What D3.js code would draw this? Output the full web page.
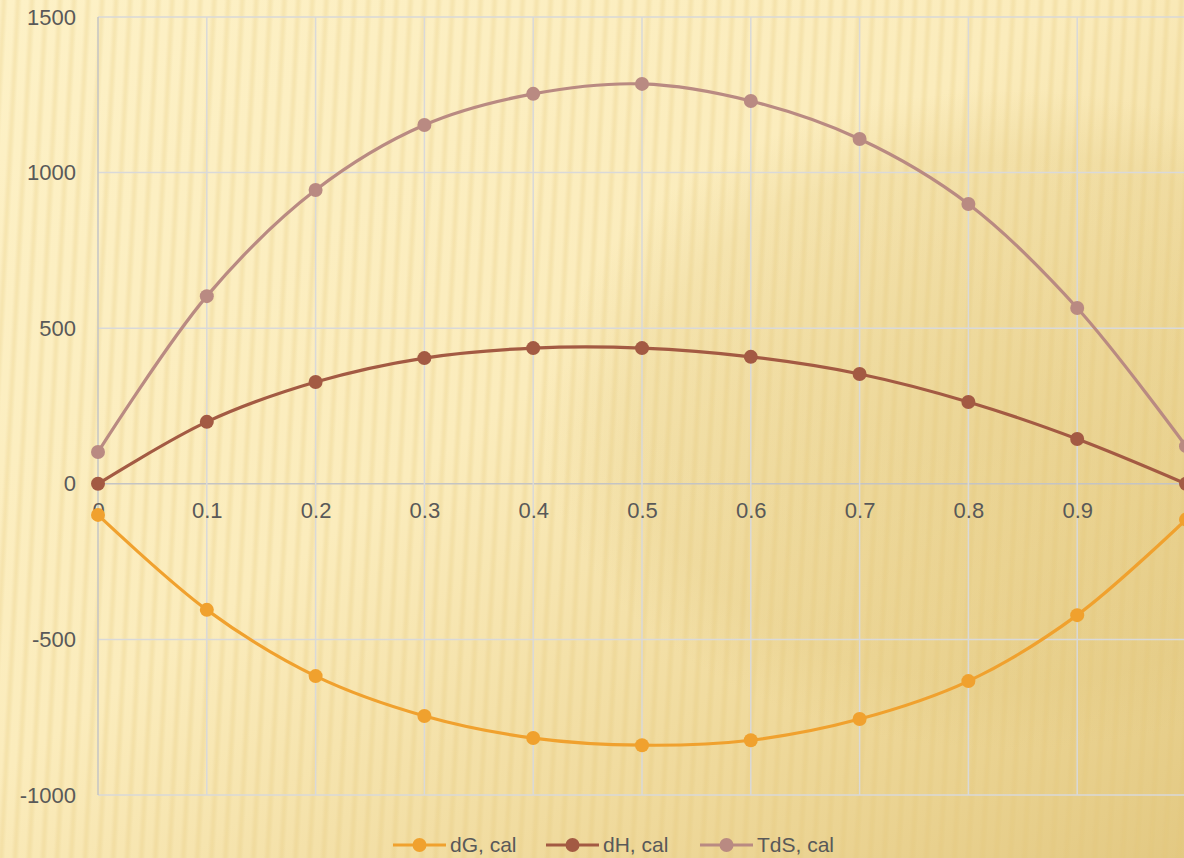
<!DOCTYPE html>
<html>
<head>
<meta charset="utf-8">
<script src="https://cdn.jsdelivr.net/npm/d3@7"></script>
<style>
  html, body { margin: 0; padding: 0; background: #fcefc4; }
  svg { display: block; }
</style>
</head>
<body>
<div id="chart"></div>
<script>
// Datos
const xValues = [0, 0.1, 0.2, 0.3, 0.4, 0.5, 0.6, 0.7, 0.8, 0.9, 1.0]
const dG = [-100, -405, -618, -746, -817, -840, -824, -756, -634, -422, -115]
const dH = [0, 199, 327, 404, 436, 436, 408, 353, 263, 144, 0]
const TdS = [102, 603, 944, 1153, 1253, 1285, 1230, 1108, 899, 565, 121]
const seriesNames = ["dG, cal", "dH, cal", "TdS, cal"]
const seriesColors = ["#f0a12e", "#a35a43", "#b98a82"]
const yTicks = [-1000, -500, 0, 500, 1000, 1500]
const xTicks = [0, 0.1, 0.2, 0.3, 0.4, 0.5, 0.6, 0.7, 0.8, 0.9]

const width = 1184, height = 858

const series = [dG, dH, TdS].map((vals, i) => ({
    name: seriesNames[i],
    color: seriesColors[i],
    points: vals.map((v, j) => ({ x: xValues[j], y: v }))
}))

const svg = d3.select("#chart").append("svg")
    .attr("width", width)
    .attr("height", height)
    .style("font-family", "'Liberation Sans', Arial, sans-serif")

// Fondo: degradado amarillo con rayas
const defs = svg.append("defs")
const bg = defs.append("linearGradient").attr("id", "bg")
    .attr("x1", "0").attr("y1", "0").attr("x2", "1").attr("y2", "1")
bg.selectAll("stop")
    .data([
        { o: "0%", c: "#fdf1c6" },
        { o: "45%", c: "#fbecbc" },
        { o: "75%", c: "#efd99b" },
        { o: "100%", c: "#e3c982" }
    ])
    .join("stop")
    .attr("offset", d => d.o)
    .attr("stop-color", d => d.c)

const glow = defs.append("radialGradient").attr("id", "glow")
    .attr("cx", "0.5").attr("cy", "0.5").attr("r", "0.5")
glow.selectAll("stop")
    .data([
        { o: "0%", c: "#d9bd6e", a: 0.28 },
        { o: "80%", c: "#d9bd6e", a: 0.18 },
        { o: "100%", c: "#d9bd6e", a: 0 }
    ])
    .join("stop")
    .attr("offset", d => d.o)
    .attr("stop-color", d => d.c)
    .attr("stop-opacity", d => d.a)

const stripeGrad = defs.append("linearGradient").attr("id", "stripeGrad")
    .attr("x1", "0").attr("x2", "1").attr("y1", "0").attr("y2", "0")
stripeGrad.selectAll("stop")
    .data([
        { o: "0%", a: 0 },
        { o: "50%", a: 0.28 },
        { o: "100%", a: 0 }
    ])
    .join("stop")
    .attr("offset", d => d.o)
    .attr("stop-color", "#e2c475")
    .attr("stop-opacity", d => d.a)

const pattern = defs.append("pattern").attr("id", "stripes")
    .attr("patternUnits", "userSpaceOnUse")
    .attr("width", 14).attr("height", 40)
    .attr("patternTransform", "rotate(3)")
pattern.append("rect").attr("width", 8).attr("height", 40).attr("fill", "url(#stripeGrad)")

svg.append("rect").attr("width", width).attr("height", height).attr("fill", "url(#bg)")
svg.append("ellipse").attr("cx", 1010).attr("cy", 420).attr("rx", 470).attr("ry", 330)
    .attr("fill", "url(#glow)")
svg.append("rect").attr("width", width).attr("height", height).attr("fill", "url(#stripes)")

// Escalas
const x = d3.scaleLinear().domain([0, 1]).range([98, 1186])
const y = d3.scaleLinear().domain([-1000, 1500]).range([795, 17])

const g = svg.append("g")

// Rejilla
g.append("g")
    .selectAll("line")
    .data(yTicks)
    .join("line")
    .attr("x1", x(0)).attr("x2", width)
    .attr("y1", d => y(d)).attr("y2", d => y(d))
    .attr("stroke", d => d === 0 ? "#c4c4c4" : "#d9d9d9")
    .attr("stroke-width", 1.5)

g.append("g")
    .selectAll("line")
    .data(xTicks.slice(1))
    .join("line")
    .attr("x1", d => x(d)).attr("x2", d => x(d))
    .attr("y1", y(1500)).attr("y2", y(-1000))
    .attr("stroke", "#d9d9d9")
    .attr("stroke-width", 1.5)

g.append("line")
    .attr("x1", x(0)).attr("x2", x(0))
    .attr("y1", y(1500)).attr("y2", y(-1000))
    .attr("stroke", "#c4c4c4")
    .attr("stroke-width", 1.5)

// Ejes
const yAxis = d3.axisLeft(y).tickValues(yTicks).tickSize(0).tickPadding(22)
    .tickFormat(d => String(d))
const yg = g.append("g").attr("transform", `translate(${x(0)},0)`).call(yAxis)
yg.select(".domain").remove()
yg.selectAll("text").attr("font-size", "22px").attr("fill", "#595959")

const xAxis = d3.axisBottom(x).tickValues(xTicks).tickSize(0).tickPadding(19)
    .tickFormat(d => String(+d.toFixed(1)))
const xg = g.append("g").attr("transform", `translate(0,${y(0)})`).call(xAxis)
xg.select(".domain").remove()
xg.selectAll("text").attr("font-size", "22px").attr("fill", "#595959")

// Líneas
const line = d3.line()
    .x(d => x(d.x))
    .y(d => y(d.y))
    .curve(d3.curveCatmullRom.alpha(0.5))

const sg = g.append("g")
    .selectAll("g")
    .data(series)
    .join("g")

sg.append("path")
    .attr("d", d => line(d.points))
    .attr("fill", "none")
    .attr("stroke", d => d.color)
    .attr("stroke-width", 3.2)

sg.selectAll("circle")
    .data(d => d.points.map(p => ({ ...p, color: d.color })))
    .join("circle")
    .attr("cx", d => x(d.x))
    .attr("cy", d => y(d.y))
    .attr("r", 7)
    .attr("fill", d => d.color)

// Leyenda
const legendX = [393, 546, 700]
const legend = svg.append("g")
    .selectAll("g")
    .data(series)
    .join("g")
    .attr("transform", (d, i) => `translate(${legendX[i]},845)`)

legend.append("line")
    .attr("x1", 0).attr("x2", 53)
    .attr("stroke", d => d.color)
    .attr("stroke-width", 3.2)
legend.append("circle")
    .attr("cx", 26.5).attr("r", 7)
    .attr("fill", d => d.color)
legend.append("text")
    .attr("x", 57)
    .attr("dy", "0.35em")
    .attr("font-size", "21px")
    .attr("fill", "#595959")
    .text(d => d.name)
</script>
</body>
</html>
